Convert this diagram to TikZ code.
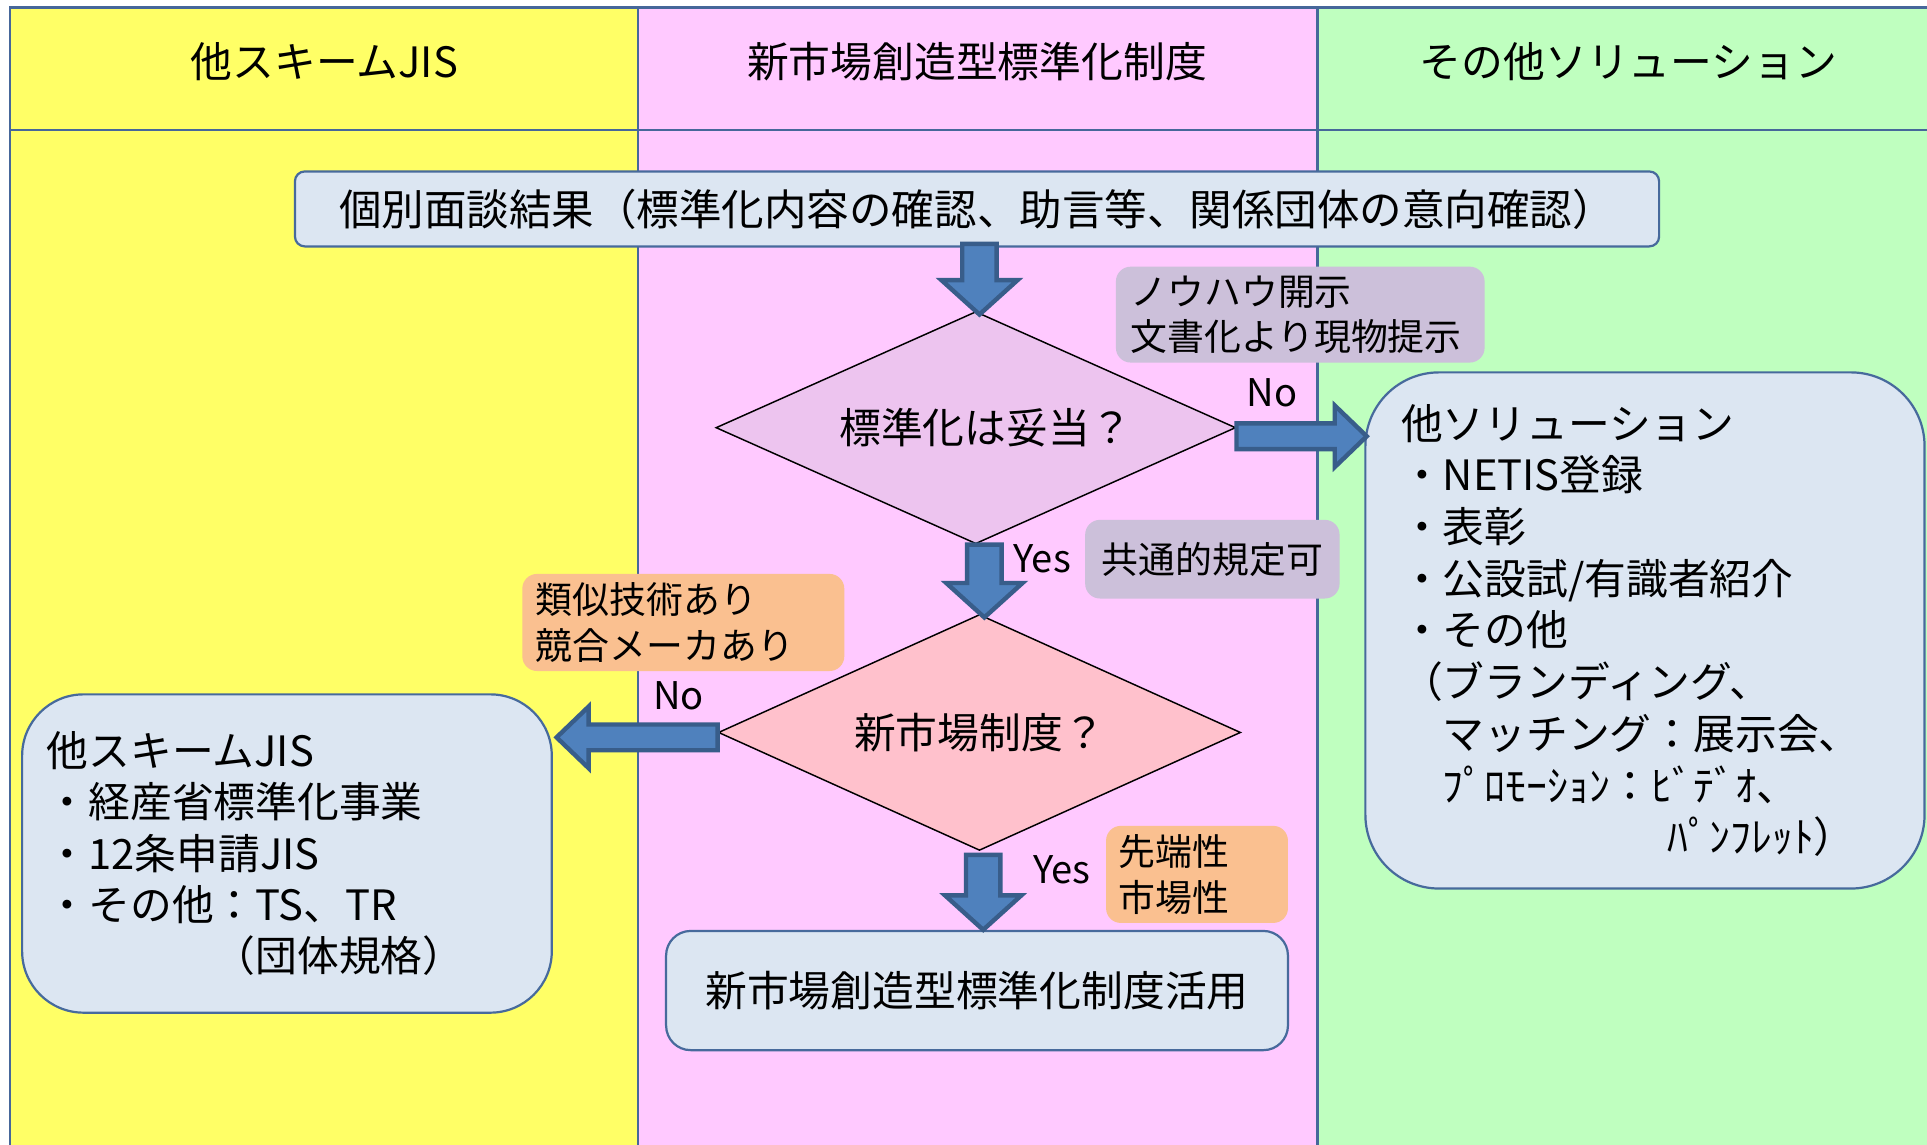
\documentclass[tikz,border=0pt]{standalone}
\usepackage{fontspec}
\setmainfont{Noto Sans CJK JP}
\usetikzlibrary{shapes.geometric,calc}
\definecolor{colY}{HTML}{FFFF66}
\definecolor{colP}{HTML}{FFC9FF}
\definecolor{colG}{HTML}{BFFFBF}
\definecolor{frameC}{HTML}{46679A}
\definecolor{boxF}{HTML}{DCE6F2}
\definecolor{boxL}{HTML}{476A9C}
\definecolor{diaA}{HTML}{EDC4EF}
\definecolor{diaB}{HTML}{FFC1CC}
\definecolor{noteG}{HTML}{CCC0DA}
\definecolor{noteO}{HTML}{FAC090}
\definecolor{arrF}{HTML}{4F81BD}
\definecolor{arrL}{HTML}{385D8A}
\tikzset{
  frameline/.style={draw=frameC, line width=1pt},
  hdr/.style={font=\fontsize{17pt}{20.8pt}\selectfont, inner sep=0pt},
  pbox/.style={draw=boxL, fill=boxF, line width=0.9pt, font=\fontsize{17pt}{20.8pt}\selectfont, inner sep=0pt},
  dia/.style={draw=black, line width=0.6pt, diamond, aspect=2.24, inner sep=0pt, font=\fontsize{17pt}{20.8pt}\selectfont},
  note/.style={rounded corners=6pt, inner ysep=0pt, font=\fontsize{15pt}{18.5pt}\selectfont, align=left},
  lbl/.style={font=\fontsize{15.5pt}{18pt}\selectfont, inner sep=0pt},
  barrow/.style={fill=arrF, draw=arrL, line width=1.8pt, line join=miter}
}
\newcommand\blockdown[2]{\draw[barrow] let \p1=(#1), \p2=(#2) in
  (\x1-7pt,\y1) -- (\x1+7pt,\y1) -- (\x1+7pt,\y2+14pt) -- (\x1+15.5pt,\y2+14pt) -- (\x1,\y2)
  -- (\x1-15.5pt,\y2+14pt) -- (\x1-7pt,\y2+14pt) -- cycle;}
\newcommand\blockright[2]{\draw[barrow] let \p1=(#1), \p2=(#2) in
  (\x1,\y1-5.25pt) -- (\x2-13pt,\y1-5.25pt) -- (\x2-13pt,\y1-12.5pt) -- (\x2,\y1)
  -- (\x2-13pt,\y1+12.5pt) -- (\x2-13pt,\y1+5.25pt) -- (\x1,\y1+5.25pt) -- cycle;}
\newcommand\blockleft[2]{\draw[barrow] let \p1=(#1), \p2=(#2) in
  (\x1,\y1-5.25pt) -- (\x2+13pt,\y1-5.25pt) -- (\x2+13pt,\y1-12.5pt) -- (\x2,\y1)
  -- (\x2+13pt,\y1+12.5pt) -- (\x2+13pt,\y1+5.25pt) -- (\x1,\y1+5.25pt) -- cycle;}
\begin{document}
\begin{tikzpicture}[x=0.5pt, y=-0.5pt]
\useasboundingbox (0,0) rectangle (1568,931);
\fill[white] (0,0) rectangle (1568,931);
% swimlanes
\fill[colY] (8,6) rectangle (519,940);
\fill[colP] (519,6) rectangle (1072,940);
\fill[colG] (1072,6) rectangle (1580,940);
\draw[frameline] (8,940) -- (8,6) -- (1580,6);
\draw[frameline] (8,106) -- (1580,106);
\draw[frameline] (519,6) -- (519,940);
\draw[frameline] (1072,6) -- (1072,940);
\node[hdr] (h1) at (264,50) {他スキームJIS};
\node[hdr] (h2) at (795,50) {新市場創造型標準化制度};
\node[hdr] (h3) at (1325,50) {その他ソリューション};
% main nodes
\node[pbox, rounded corners=4pt, minimum width=555pt, minimum height=30.5pt, font=\fontsize{17.3pt}{20pt}\selectfont] (top) at (795,170)
  {個別面談結果（標準化内容の確認、助言等、関係団体の意向確認）};
\node[dia, fill=diaA, minimum width=211.5pt, minimum height=94.5pt] (d1) at (794,348) {\hspace*{8pt}標準化は妥当？};
\node[dia, fill=diaB, minimum width=212.5pt, minimum height=96pt] (d2) at (797,596) {新市場制度？};
\node[pbox, rounded corners=10pt, minimum width=253pt, minimum height=48.5pt] (bot) at (795,806) {新市場創造型標準化制度活用};
\node[pbox, rounded corners=25pt, minimum width=215.5pt, minimum height=129.5pt, text width=195.5pt, inner xsep=10pt, align=left] (lb) at (233.5,694.5)
  {他スキームJIS\\・経産省標準化事業\\・12条申請JIS\\・その他：TS、TR\\　　　　（団体規格）};
\node[pbox, rounded corners=30pt, minimum width=227.5pt, minimum height=210pt, text width=198.5pt, inner xsep=14.5pt, align=left, font=\fontsize{17pt}{21.05pt}\selectfont] (rb) at (1338.5,513)
  {他ソリューション\\・NETIS登録\\・表彰\\・公設試/有識者紹介\\・その他\\（ブランディング、\\　マッチング：展示会、\\　ﾌﾟﾛﾓｰｼｮﾝ：ﾋﾞﾃﾞｵ、\\\hspace*{108.5pt}ﾊﾟﾝﾌﾚｯﾄ）};
% notes
\node[note, fill=noteG, minimum width=150pt, minimum height=39pt, text width=138pt, inner xsep=6pt] (n1) at (1058,256) {ノウハウ開示\\文書化より現物提示};
\node[note, fill=noteG, minimum width=103.5pt, minimum height=32pt, align=center] (n2) at (986.5,455) {共通的規定可};
\node[note, fill=noteO, minimum width=131pt, minimum height=39.5pt, text width=120pt, inner xsep=5.5pt] (n3) at (556,506.5) {類似技術あり\\競合メーカあり};
\node[note, fill=noteO, minimum width=74pt, minimum height=39.5pt, text width=64pt, inner xsep=5pt] (n4) at (974,711.5) {先端性\\市場性};
% labels
\node[lbl] (no1) at (1035,320) {No};
\node[lbl] (yes1) at (848,455) {Yes};
\node[lbl] (no2) at (552,566) {No};
\node[lbl] (yes2) at (864,708) {Yes};
% arrows
\blockdown{$(top.south)+(2,-3)$}{$(d1.north)+(0,3)$}
\blockdown{$(d1.south)+(7,0)$}{$(d2.north)+(0,3)$}
\blockdown{$(d2.south)+(3,3)$}{bot.north}
\blockright{$(d1.east)+(0,7)$}{$(rb.west)+(2,0)$}
\blockleft{$(d2.west)+(0,4)$}{$(lb.east)+(3,0)$}
\end{tikzpicture}
\end{document}
